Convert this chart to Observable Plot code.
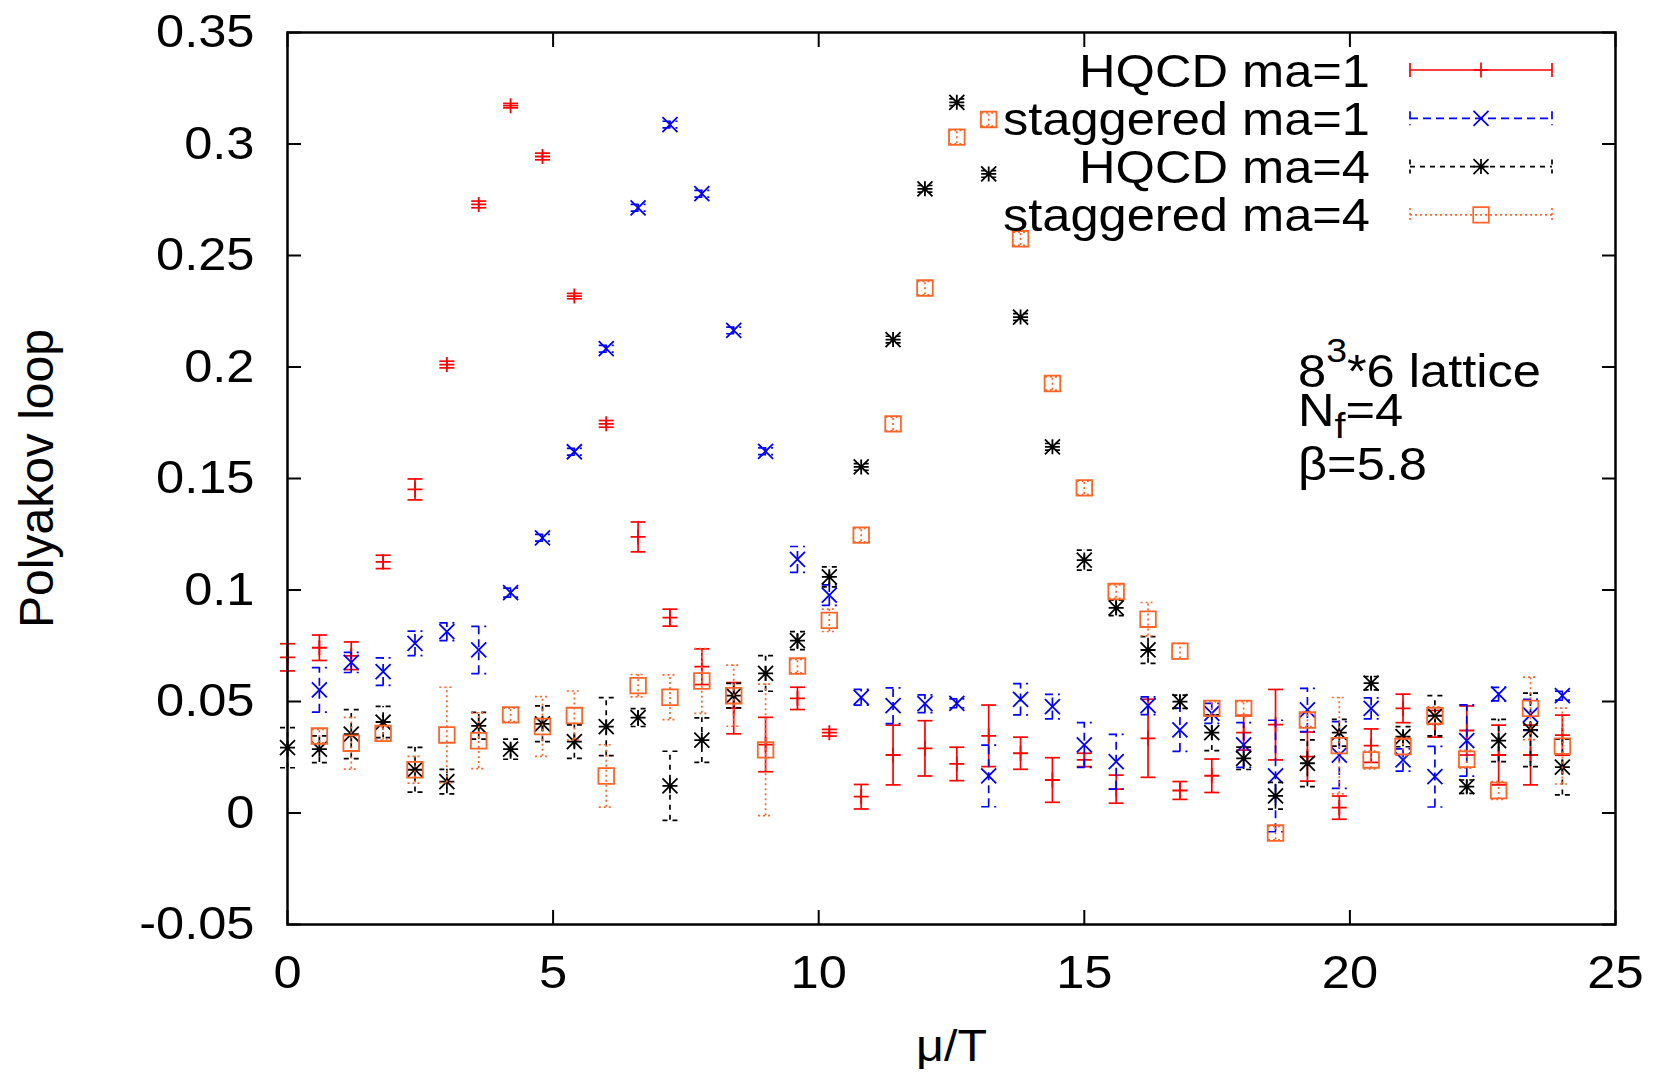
<!DOCTYPE html>
<html><head><meta charset="utf-8">
<script src="https://cdn.jsdelivr.net/npm/d3@7"></script>
<script src="https://cdn.jsdelivr.net/npm/@observablehq/plot@0.6"></script>
<style>body{margin:0;background:#fff;}</style>
</head><body><div id="chart"></div>
<script>
// ---- data ----
const mu = [0,0.6,1.2,1.8,2.4,3.0,3.6,4.2,4.8,5.4,6.0,6.6,7.2,7.8,8.4,9.0,9.6,10.2,10.8,11.4,12.0,12.6,13.2,13.8,14.4,15.0,15.6,16.2,16.8,17.4,18.0,18.6,19.2,19.8,20.4,21.0,21.6,22.2,22.8,23.4,24.0];

const hqcd1 = [0.0698,0.0741,0.0705,0.1126,0.1451,0.2011,0.2729,0.3172,0.2944,0.2318,0.1745,0.1238,0.0876,0.0656,0.0470,0.0307,0.0514,0.0360,0.0073,0.0260,0.0290,0.0220,0.0346,0.0268,0.0148,0.0238,0.0107,0.0335,0.0101,0.0167,0.0360,0.0396,0.0253,0.0024,0.0302,0.0469,0.0400,0.0370,0.0260,0.0260,0.0349];
const hqcd1Err = [0.0061,0.0057,0.0062,0.0030,0.0047,0.0015,0.0015,0.0010,0.0015,0.0012,0.0015,0.0067,0.0038,0.0080,0.0115,0.0122,0.0050,0.0015,0.0055,0.0134,0.0124,0.0075,0.0138,0.0072,0.0100,0.0030,0.0063,0.0175,0.0040,0.0075,0.0078,0.0158,0.0110,0.0052,0.0075,0.0064,0.0060,0.0110,0.0134,0.0134,0.0090];

const stag1 = [null,0.0552,0.0675,0.0634,0.0761,0.0813,0.0731,0.0988,0.1234,0.1620,0.2082,0.2714,0.3087,0.2777,0.2164,0.1622,0.1137,0.0977,0.0519,0.0481,0.0490,0.0492,0.0166,0.0510,0.0477,0.0305,0.0230,0.0481,0.0373,0.0447,0.0305,0.0166,0.0462,0.0260,0.0469,0.0238,0.0163,0.0325,0.0533,0.0440,0.0526];
const stag1Err = [null,0.010,0.0045,0.0062,0.0055,0.0040,0.0106,0.0020,0.0015,0.0015,0.0015,0.0015,0.0015,0.0015,0.0015,0.0015,0.0058,0.0046,0.0035,0.0080,0.0040,0.0020,0.0138,0.0070,0.0055,0.0100,0.0123,0.0040,0.0097,0.0045,0.0100,0.0250,0.0097,0.0150,0.0047,0.0050,0.0136,0.0160,0.0030,0.0070,0.0020];

const hqcd4 = [0.0293,0.0286,0.0354,0.0408,0.0194,0.0141,0.0391,0.0286,0.0400,0.0320,0.0387,0.0428,0.0122,0.0327,0.0526,0.0626,0.0773,0.1059,0.1552,0.2123,0.2799,0.3187,0.2866,0.2224,0.1642,0.1134,0.0920,0.0731,0.0499,0.0360,0.0245,0.0077,0.0223,0.0360,0.0582,0.0342,0.0436,0.0118,0.0325,0.0373,0.0206];
const hqcd4Err = [0.009,0.006,0.011,0.007,0.010,0.0055,0.006,0.0045,0.008,0.0075,0.013,0.004,0.0155,0.010,0.0055,0.008,0.004,0.0045,0.0015,0.0015,0.0015,0.0015,0.0015,0.0015,0.0015,0.0045,0.0035,0.006,0.003,0.008,0.005,0.006,0.0105,0.006,0.003,0.0045,0.009,0.003,0.0095,0.0165,0.0125];

const stag4 = [null,0.0345,0.0313,0.0357,0.0194,0.0350,0.0324,0.0440,0.0388,0.0437,0.0166,0.0571,0.0519,0.0592,0.0526,0.0283,0.0659,0.0864,0.1246,0.1745,0.2354,0.3031,0.3110,0.2575,0.1926,0.1458,0.0993,0.0869,0.0726,0.0469,0.0469,-0.0090,0.0417,0.0302,0.0238,0.0298,0.0436,0.0241,0.0101,0.0469,0.0300];
const stag4Err = [null,0.003,0.0116,0.003,0.006,0.0214,0.0125,0.003,0.0134,0.011,0.014,0.005,0.010,0.0145,0.0137,0.0295,0.003,0.005,0.003,0.003,0.003,0.003,0.003,0.003,0.003,0.003,0.003,0.0075,0.0035,0.003,0.003,0.003,0.003,0.0216,0.004,0.004,0.004,0.004,0.004,0.014,0.017];

const seriesNames = ["HQCD ma=1", "staggered ma=1", "HQCD ma=4", "staggered ma=4"];
const xTicks = [0, 5, 10, 15, 20, 25];
const xTickLabels = ["0", "5", "10", "15", "20", "25"];
const yTicks = [-0.05, 0, 0.05, 0.1, 0.15, 0.2, 0.25, 0.3, 0.35];
const yTickLabels = ["-0.05", "0", "0.05", "0.1", "0.15", "0.2", "0.25", "0.3", "0.35"];
const xLabel = "\u03bc/T";
const yLabel = "Polyakov loop";

// ---- styles ----
const FONT = "'Liberation Sans', Arial, Helvetica, sans-serif";
const colors = ["#ff0000", "#0000ff", "#000000", "#ff6428"];
const dashes = [null, "8,5", "5,5", "2,3"];

function sym(kind) {
  return {draw(ctx, size) {
    const w = Math.sqrt(size / Math.PI);
    if (kind === "cap") { ctx.moveTo(-w, 0); ctx.lineTo(w, 0); }
    if (kind === "plus" || kind === "star") { ctx.moveTo(-w, 0); ctx.lineTo(w, 0); ctx.moveTo(0, -w); ctx.lineTo(0, w); }
    if (kind === "cross" || kind === "star") { ctx.moveTo(-w, -w); ctx.lineTo(w, w); ctx.moveTo(-w, w); ctx.lineTo(w, -w); }
    if (kind === "square") { ctx.moveTo(-w, -w); ctx.lineTo(w, -w); ctx.lineTo(w, w); ctx.lineTo(-w, w); ctx.closePath(); }
  }};
}
const markerKinds = ["plus", "cross", "star", "square"];

const allVals = [[hqcd1, hqcd1Err], [stag1, stag1Err], [hqcd4, hqcd4Err], [stag4, stag4Err]];
const seriesRows = allVals.map(([v, e]) => mu.map((x, i) => ({x, y: v[i], e: e[i]})).filter(d => d.y != null));

const dataMarks = [];
seriesRows.forEach((rows, k) => {
  const common = {stroke: colors[k], strokeWidth: 1.7, fill: "none"};
  const dash = dashes[k] ? {strokeDasharray: dashes[k]} : {};
  dataMarks.push(Plot.ruleX(rows, {x: "x", y1: d => d.y - d.e, y2: d => d.y + d.e, ...common, ...dash}));
  dataMarks.push(Plot.dot(rows, {x: "x", y: d => d.y - d.e, symbol: sym("cap"), r: 7.5, ...common, ...dash}));
  dataMarks.push(Plot.dot(rows, {x: "x", y: d => d.y + d.e, symbol: sym("cap"), r: 7.5, ...common, ...dash}));
  dataMarks.push(Plot.dot(rows, {x: "x", y: "y", symbol: sym(markerKinds[k]), r: markerKinds[k] === "square" ? 7.8 : 7.5, ...common, strokeWidth: 1.8}));
});

const svg = Plot.plot({
  width: 1658, height: 1072,
  marginLeft: 287, marginRight: 43, marginTop: 32, marginBottom: 148,
  x: {domain: [0, 25]},
  y: {domain: [-0.05, 0.35]},
  style: {fontFamily: FONT, background: "white", color: "black", overflow: "visible"},
  marks: [
    ...dataMarks,
    Plot.axisX({anchor: "bottom", ticks: xTicks, tickSize: -14, tickFormat: () => "", label: null, strokeWidth: 2}),
    Plot.axisX({anchor: "top", ticks: xTicks, tickSize: -14, tickFormat: () => "", label: null, strokeWidth: 2}),
    Plot.axisY({anchor: "left", ticks: yTicks, tickSize: -14, tickFormat: () => "", label: null, strokeWidth: 2}),
    Plot.axisY({anchor: "right", ticks: yTicks, tickSize: -14, tickFormat: () => "", label: null, strokeWidth: 2}),
    Plot.axisX({anchor: "bottom", ticks: xTicks, tickSize: 0, tickPadding: 31, tickFormat: d => xTickLabels[xTicks.indexOf(d)], label: null, fontSize: 46}),
    Plot.axisY({anchor: "left", ticks: yTicks, tickSize: 0, tickPadding: 33, tickFormat: d => yTickLabels[yTicks.indexOf(d)], label: null, fontSize: 46}),
    Plot.text([xLabel], {frameAnchor: "bottom", text: d => d, dy: 136, lineAnchor: "bottom", fontSize: 44}),
    Plot.text([yLabel], {frameAnchor: "left", text: d => d, rotate: -90, dx: -250, textAnchor: "middle", fontSize: 48}),
    Plot.frame({stroke: "black", strokeWidth: 2.5})
  ]
});

document.getElementById("chart").append(svg);

// gnuplot-like horizontal stretch of the text
svg.querySelectorAll("text").forEach(t => {
  const tr = t.getAttribute("transform") || "";
  if (tr.includes("rotate")) return;
  const len = t.getComputedTextLength();
  if (len > 0) { t.setAttribute("textLength", (len * 1.1).toFixed(1)); t.setAttribute("lengthAdjust", "spacingAndGlyphs"); }
});

// ---- legend (inside the frame, top-right) ----
const s = d3.select(svg);
const leg = s.append("g").attr("font-family", FONT).attr("font-size", 46);
const shapes = {
  plus: w => `M${-w},0H${w}M0,${-w}V${w}`,
  cross: w => `M${-w},${-w}L${w},${w}M${-w},${w}L${w},${-w}`,
  star: w => `M${-w},0H${w}M0,${-w}V${w}M${-w},${-w}L${w},${w}M${-w},${w}L${w},${-w}`,
  square: w => `M${-w},${-w}H${w}V${w}H${-w}Z`
};
seriesNames.forEach((name, k) => {
  const cy = 70 + k * 48.3;
  leg.append("g").attr("transform", `translate(1370,${cy + 16.5}) scale(1.1,1)`)
    .append("text").attr("text-anchor", "end").text(name);
  const g = leg.append("g").attr("stroke", colors[k]).attr("stroke-width", 1.7).attr("fill", "none");
  g.append("line").attr("x1", 1410).attr("x2", 1552).attr("y1", cy).attr("y2", cy).attr("stroke-dasharray", dashes[k]);
  g.append("line").attr("x1", 1410).attr("x2", 1410).attr("y1", cy - 7).attr("y2", cy + 7).attr("stroke-dasharray", dashes[k]);
  g.append("line").attr("x1", 1552).attr("x2", 1552).attr("y1", cy - 7).attr("y2", cy + 7).attr("stroke-dasharray", dashes[k]);
  g.append("path").attr("transform", `translate(1481,${cy})`).attr("d", shapes[markerKinds[k]](markerKinds[k] === "square" ? 7.8 : 7.5));
});

// ---- annotation ----
const ann = s.append("g").attr("font-family", FONT).attr("font-size", 46).attr("text-anchor", "start");
const t1 = ann.append("g").attr("transform", "translate(1298,387) scale(1.1,1)").append("text").attr("text-anchor", "start");
t1.append("tspan").text("8");
t1.append("tspan").attr("font-size", 34).attr("dy", -25).text("3");
t1.append("tspan").attr("dy", 25).text("*6 lattice");
const t2 = ann.append("g").attr("transform", "translate(1298,426) scale(1.1,1)").append("text").attr("text-anchor", "start");
t2.append("tspan").text("N");
t2.append("tspan").attr("font-size", 36).attr("dy", 12).text("f");
t2.append("tspan").attr("dy", -12).text("=4");
ann.append("g").attr("transform", "translate(1298,480) scale(1.1,1)").append("text").attr("text-anchor", "start").text("\u03b2=5.8");
</script></body></html>
